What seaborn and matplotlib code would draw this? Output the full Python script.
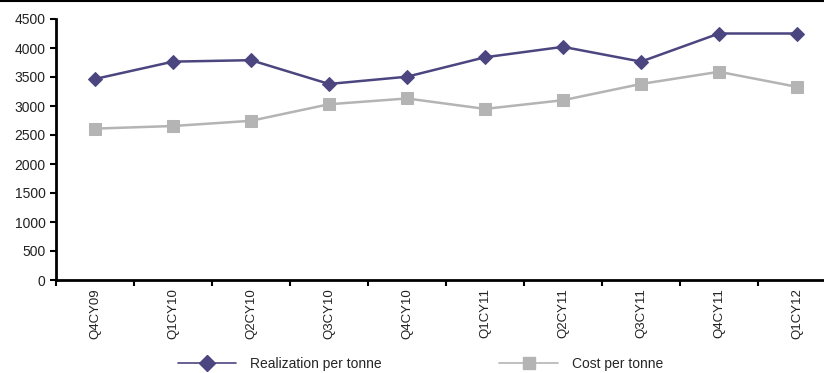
import numpy as np
import pandas as pd
import matplotlib
matplotlib.use("Agg")
import matplotlib.pyplot as plt
from matplotlib.lines import Line2D
import seaborn as sns

# data
quarters = ["Q4CY09", "Q1CY10", "Q2CY10", "Q3CY10", "Q4CY10",
            "Q1CY11", "Q2CY11", "Q3CY11", "Q4CY11", "Q1CY12"]
realization = [3466, 3765, 3790, 3380, 3505, 3840, 4020, 3765, 4250, 4250]
cost = [2610, 2655, 2745, 3030, 3130, 2950, 3100, 3380, 3590, 3330]

df = pd.DataFrame({
    "quarter": quarters * 2,
    "value": realization + cost,
    "series": ["Realization per tonne"] * len(quarters) + ["Cost per tonne"] * len(quarters),
})

sns.set_theme(style="white")
plt.rcParams["font.family"] = ["Liberation Sans", "DejaVu Sans"]
plt.rcParams["font.size"] = 9

fig = plt.figure(figsize=(8.24, 3.73), dpi=100)
ax = fig.add_axes([56 / 824, 93 / 373, 780 / 824, 261 / 373])

pal = {"Realization per tonne": "#4B4580", "Cost per tonne": "#B4B4B4"}
mk = {"Realization per tonne": "D", "Cost per tonne": "s"}
for name in ["Realization per tonne", "Cost per tonne"]:
    sub = df[df.series == name]
    sns.lineplot(data=sub, x="quarter", y="value", ax=ax, color=pal[name],
                 marker=mk[name], markersize=7.5 if mk[name] == "D" else 8,
                 markeredgecolor=pal[name], linewidth=1.8, sort=False, label=name,
                 legend=False)

ax.set_xlim(-0.5, len(quarters) - 0.5)
ax.set_ylim(0, 4500)
ax.set_yticks(np.arange(0, 4501, 500))
ax.set_xlabel("")
ax.set_ylabel("")
ax.set_xticks(range(len(quarters)))
ax.set_xticklabels(quarters, rotation=90, color="#222222", fontsize=9.5)
ax.set_xticks(np.arange(-0.5, len(quarters), 1), minor=True)
ax.tick_params(axis="x", which="major", length=0, pad=6)
ax.tick_params(axis="x", which="minor", length=4, width=1.5, color="black", direction="out", bottom=True)
ax.tick_params(axis="y", length=4, width=1.5, color="black", direction="out", left=True,
               labelsize=10, labelcolor="#222222")
for s in ["top", "right"]:
    ax.spines[s].set_visible(False)
for s in ["left", "bottom"]:
    ax.spines[s].set_color("black")
    ax.spines[s].set_linewidth(2)

# thin frame line across the top of the picture
fig.add_artist(Line2D([0, 1], [0.997, 0.997], transform=fig.transFigure, color="black", lw=1.5))

handles = [Line2D([], [], color=pal[n], marker=mk[n], markersize=8, lw=1.2) for n in pal]
fig.legend(handles, list(pal.keys()), loc="center", bbox_to_anchor=(0.51, 0.025), ncol=2,
           frameon=False, handlelength=4.2, handletextpad=1.0, columnspacing=8.5, fontsize=10)

fig.savefig("out.png", dpi=100, facecolor="white")
